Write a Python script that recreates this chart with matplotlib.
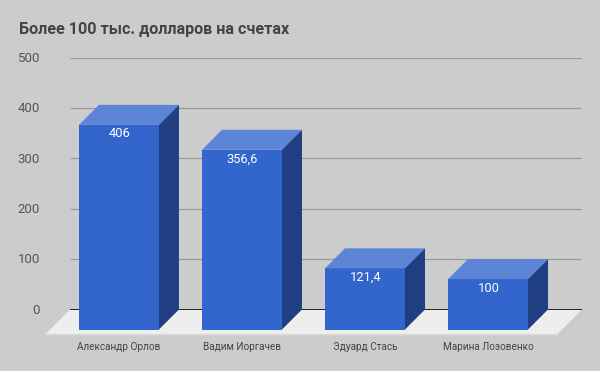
import matplotlib
matplotlib.use("Agg")
import matplotlib.pyplot as plt

names = ["Александр Орлов", "Вадим Иоргачев", "Эдуард Стась", "Марина Лозовенко"]
values = [406, 356.6, 121.4, 100]
value_labels = ["406", "356,6", "121,4", "100"]
y_ticks = [0, 100, 200, 300, 400, 500]

W, H = 600, 371
plt.rcParams['font.family'] = ['Roboto', 'DejaVu Sans']

fig = plt.figure(figsize=(W / 100, H / 100), dpi=100, facecolor="#cccccc")
# axes rect is taken from the pixel position of the gridlines
ax = fig.add_axes([70 / W, 1 - 309.5 / H, 512 / W, 252 / H])
ax.set_facecolor("none")
ax.set_xlim(-0.398, 3.764)
ax.set_ylim(0, 500)

# fake 3d depth, in data units
px_x = 4.162 / 512
px_y = 500 / 252
bar_w = 80 * px_x
dx = 20 * px_x
dy = 20 * px_y

for t in y_ticks[1:]:
    ax.plot([-0.398, 3.764], [t, t], color="#9a9a9a", lw=0.9, zorder=1, solid_capstyle="butt")

# floor
fx0, fx1 = -0.398, 3.764
fd = 24.5
ax.fill([fx0, fx1, fx1 - fd * px_x, fx0 - fd * px_x], [0, 0, -fd * px_y, -fd * px_y],
        color="#eeeeee", lw=0, clip_on=False, zorder=2)
ax.plot([fx1 - fd * px_x, fx0 - fd * px_x], [-fd * px_y, -fd * px_y], color="#dcdcdc", lw=1,
        clip_on=False, zorder=2)
ax.plot([fx0, fx1], [0, 0], color="#000000", lw=1.2, zorder=3, solid_capstyle="butt")

for i, v in enumerate(values):
    left = i - bar_w / 2
    right = i + bar_w / 2
    top = v - dy
    ax.bar(i, v, width=bar_w, bottom=-dy, color="#3366cc", lw=0, clip_on=False, zorder=5)
    ax.fill([left, right, right + dx, left + dx], [top, top, top + dy, top + dy],
            color="#5c85d6", lw=0, clip_on=False, zorder=5)
    ax.fill([right, right + dx, right + dx, right], [-dy, 0, top + dy, top],
            color="#1f3f82", lw=0, clip_on=False, zorder=5)
    ax.text(i + 0.5 * px_x, top - 9 * px_y, value_labels[i], color="white", fontsize=9.3, ha="center",
            va="center", zorder=6)
    ax.text(i, -37 * px_y, names[i], color="#444444", fontsize=7.2, ha="center", va="center",
            clip_on=False)

for t in y_ticks:
    ax.text(-0.398 - 30 * px_x, t - 0.7 * px_y, str(t), color="#555555", fontsize=9.5, ha="right", va="center")

for s in ax.spines.values():
    s.set_visible(False)
ax.set_xticks([])
ax.set_yticks([])

fig.text(19 / W, 1 - 29 / H, "Более 100 тыс. долларов на счетах", fontsize=11.6, fontweight="bold",
         color="#444444", ha="left", va="center")

fig.savefig("out.png", dpi=100, facecolor=fig.get_facecolor())
